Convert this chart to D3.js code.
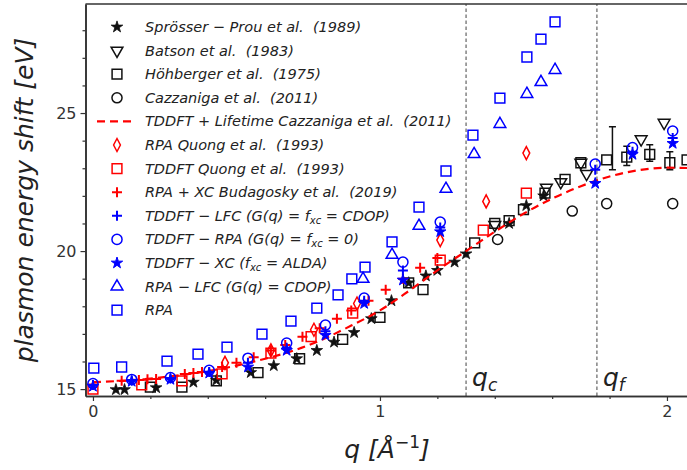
<!DOCTYPE html>
<html><head><meta charset="utf-8">
<script src="https://cdn.jsdelivr.net/npm/d3@7"></script>
<style>body{margin:0;background:#fff}svg{display:block}text{font-family:"DejaVu Sans",sans-serif}</style>
</head><body><svg id="c" width="687" height="470"></svg>
<script>
// ---- data ----
const xTicks = [0, 1, 2];
const yTicks = [15, 20, 25];
const xMinor = [0.2, 0.4, 0.6, 0.8, 1.2, 1.4, 1.6, 1.8];
const yMinor = [16, 17, 18, 19, 21, 22, 23, 24, 26, 27, 28];
const qcValue = 1.30, qfValue = 1.756;

const sprosserQ = [0.08, 0.11, 0.22, 0.35, 0.43, 0.55, 0.63, 0.71, 0.78, 0.84, 0.91, 0.97, 1.04, 1.10, 1.16, 1.20, 1.26, 1.30, 1.45, 1.51, 1.57];
const sprosserE = [14.98, 14.98, 15.05, 15.25, 15.32, 15.6, 15.85, 16.1, 16.4, 16.7, 17.05, 17.55, 18.2, 18.85, 19.1, 19.3, 19.6, 19.9, 21.0, 21.65, 22.0];

const batsonQ = [1.40, 1.58, 1.63, 1.70, 1.72, 1.91, 1.99];
const batsonE = [20.95, 22.3, 22.5, 23.2, 22.8, 24.05, 24.65];

const hohQ = [0.20, 0.31, 0.43, 0.575, 0.72, 0.87, 1.0, 1.10, 1.15, 1.33, 1.40, 1.45, 1.50, 1.575, 1.645, 1.70, 1.79, 1.86, 1.94, 2.01, 2.07];
const hohE = [15.07, 15.07, 15.3, 15.6, 16.1, 16.8, 17.6, 18.85, 18.6, 20.3, 21.0, 21.1, 21.5, 22.1, 22.6, 23.2, 23.3, 23.4, 23.5, 23.2, 23.3];
const hohErrQ = [1.81, 1.86, 1.94, 2.01];
const hohErrLo = [22.95, 23.1, 23.25, 22.95];
const hohErrHi = [24.5, 23.8, 23.85, 23.6];

const cazQ = [1.41, 1.67, 1.79, 2.02];
const cazE = [20.42, 21.45, 21.72, 21.72];

const lifeQ = [0, 0.1, 0.2, 0.3, 0.4, 0.5, 0.6, 0.7, 0.8, 0.9, 1.0, 1.1, 1.2, 1.3, 1.4, 1.5, 1.6, 1.7, 1.8, 1.9, 2.0, 2.1, 2.2];
const lifeE = [15.25, 15.3, 15.38, 15.5, 15.65, 15.85, 16.1, 16.4, 16.8, 17.3, 17.85, 18.55, 19.3, 20.0, 20.7, 21.35, 21.9, 22.35, 22.7, 22.93, 23.02, 23.0, 22.95];

const rpaQuongQ = [0.46, 0.62, 0.77, 0.92, 1.21, 1.37, 1.51];
const rpaQuongE = [15.95, 16.4, 17.15, 18.1, 20.4, 21.8, 23.55];

const tddftQuongQ = [0.0, 0.17, 0.31, 0.45, 0.62, 0.76, 0.905, 1.21, 1.36, 1.51];
const tddftQuongE = [15.0, 15.15, 15.3, 15.55, 16.3, 16.9, 17.75, 19.67, 20.76, 22.1];

const budaQ = [0.10, 0.16, 0.19, 0.22, 0.32, 0.35, 0.38, 0.45, 0.50, 0.56, 0.62, 0.67, 0.73, 0.79, 0.85, 0.90, 0.96, 1.02, 1.08, 1.14, 1.20];
const budaE = [15.3, 15.33, 15.36, 15.37, 15.55, 15.58, 15.62, 15.8, 15.95, 16.15, 16.4, 16.6, 16.9, 17.2, 17.55, 17.85, 18.2, 18.6, 19.0, 19.4, 19.75];

const blueQ = [0, 0.135, 0.27, 0.405, 0.54, 0.675, 0.81, 0.945, 1.08, 1.21, 1.75, 1.88, 2.02];
const lfcE = [15.15, 15.3, 15.38, 15.62, 15.95, 16.5, 17.1, 18.2, 19.3, 20.85, 22.95, 23.6, 24.1];
const tdRpaE = [15.2, 15.35, 15.42, 15.68, 16.12, 16.67, 17.32, 18.3, 19.6, 21.05, 23.15, 23.75, 24.35];
const xcE = [15.1, 15.28, 15.35, 15.58, 15.8, 16.4, 16.95, 18.1, 18.95, 20.7, 22.45, 23.5, 23.9];

const rpaLfcQ = [0.941, 1.042, 1.136, 1.230, 1.328, 1.418, 1.512, 1.561, 1.610];
const rpaLfcE = [18.99, 19.86, 20.91, 22.25, 23.51, 24.6, 25.69, 26.12, 26.56];

const rpaQ = [0.003, 0.10, 0.258, 0.366, 0.467, 0.589, 0.690, 0.780, 0.854, 0.902, 0.948, 1.042, 1.136, 1.230, 1.324, 1.418, 1.512, 1.561, 1.610];
const rpaE = [15.76, 15.80, 16.01, 16.27, 16.52, 16.99, 17.46, 17.93, 18.41, 18.99, 19.42, 20.33, 21.59, 22.90, 24.20, 25.54, 27.03, 27.68, 28.30];

const legendLabels = [
  ["Sprösser − Prou et al.  (1989)"],
  ["Batson et al.  (1983)"],
  ["Höhberger et al.  (1975)"],
  ["Cazzaniga et al.  (2011)"],
  ["TDDFT + Lifetime Cazzaniga et al.  (2011)"],
  ["RPA Quong et al.  (1993)"],
  ["TDDFT Quong et al.  (1993)"],
  ["RPA + XC Budagosky et al.  (2019)"],
  ["TDDFT − LFC (G(q) = f", "xc", " = CDOP)"],
  ["TDDFT − RPA (G(q) = f", "xc", " = 0)"],
  ["TDDFT − XC (f", "xc", " = ALDA)"],
  ["RPA − LFC (G(q) = CDOP)"],
  ["RPA"]
];

// ---- layout ----
const svg = d3.select("#c");
const L = 85.5, B = 396, T = 4;
const x = d3.scaleLinear().domain([-0.026, 2.2]).range([L, L + 2.226 * 287]);
const y = d3.scaleLinear().domain([14.75, 28.95]).range([B, T]);
const R = x(2.2);

svg.append("defs").append("clipPath").attr("id", "clip")
  .append("rect").attr("x", L).attr("y", T).attr("width", R - L).attr("height", B - T);

// marker shapes
const sym = {
  star: d3.symbol(d3.symbolStar, 42)(),
  starS: d3.symbol(d3.symbolStar, 40)(),
  square: d3.symbol(d3.symbolSquare, 96)(),
  circle: d3.symbol(d3.symbolCircle, 80)(),
  tri: d3.symbol(d3.symbolTriangle, 60)(),
  plus: "M-5,0H5M0,-5V5",
  diamond: "M0,-6.5L3.4,0L0,6.5L-3.4,0Z"
};
const styles = {
  sprosser: {d: sym.star, fill: "#111", stroke: "#111", sw: 0.8},
  batson: {d: sym.tri, rot: 180, fill: "none", stroke: "#111", sw: 1.5},
  hoh: {d: sym.square, fill: "none", stroke: "#111", sw: 1.5},
  caz: {d: sym.circle, fill: "none", stroke: "#111", sw: 1.5},
  rpaQuong: {d: sym.diamond, fill: "none", stroke: "red", sw: 1.5},
  tddftQuong: {d: sym.square, fill: "none", stroke: "red", sw: 1.5},
  buda: {d: sym.plus, fill: "none", stroke: "red", sw: 2},
  lfc: {d: sym.plus, fill: "none", stroke: "blue", sw: 2},
  tdRpa: {d: sym.circle, fill: "none", stroke: "blue", sw: 1.5},
  xc: {d: sym.starS, fill: "blue", stroke: "blue", sw: 1},
  rpaLfc: {d: sym.tri, fill: "none", stroke: "blue", sw: 1.5},
  rpa: {d: sym.square, fill: "none", stroke: "blue", sw: 1.5}
};

const plot = svg.append("g").attr("clip-path", "url(#clip)");

// vertical dashed lines
[qcValue, qfValue].forEach(v => {
  plot.append("line").attr("x1", x(v)).attr("x2", x(v)).attr("y1", B).attr("y2", T)
    .attr("stroke", "#444").attr("stroke-width", 1).attr("stroke-dasharray", "3.5,2.5");
});

function drawMarkers(qs, es, st) {
  plot.append("g").selectAll("path").data(qs.map((q, i) => [q, es[i]])).join("path")
    .attr("d", st.d)
    .attr("transform", d => `translate(${x(d[0])},${y(d[1])})` + (st.rot ? ` rotate(${st.rot})` : ""))
    .attr("fill", st.fill).attr("stroke", st.stroke).attr("stroke-width", st.sw);
}

// experiments
drawMarkers(sprosserQ, sprosserE, styles.sprosser);
drawMarkers(batsonQ, batsonE, styles.batson);
const eb = plot.append("g").attr("stroke", "#111").attr("stroke-width", 1.5);
hohErrQ.forEach((q, i) => {
  eb.append("line").attr("x1", x(q)).attr("x2", x(q)).attr("y1", y(hohErrLo[i])).attr("y2", y(hohErrHi[i]));
  [hohErrLo[i], hohErrHi[i]].forEach(v => eb.append("line").attr("x1", x(q) - 3.5).attr("x2", x(q) + 3.5).attr("y1", y(v)).attr("y2", y(v)));
});
drawMarkers(hohQ, hohE, styles.hoh);
drawMarkers(cazQ, cazE, styles.caz);

// lifetime curve
plot.append("path").datum(lifeQ.map((q, i) => [q, lifeE[i]]))
  .attr("d", d3.line().x(d => x(d[0])).y(d => y(d[1])).curve(d3.curveMonotoneX))
  .attr("fill", "none").attr("stroke", "red").attr("stroke-width", 2.2).attr("stroke-dasharray", "8,5");

drawMarkers(rpaQuongQ, rpaQuongE, styles.rpaQuong);
drawMarkers(tddftQuongQ, tddftQuongE, styles.tddftQuong);
drawMarkers(budaQ, budaE, styles.buda);
drawMarkers(blueQ, lfcE, styles.lfc);
drawMarkers(blueQ, tdRpaE, styles.tdRpa);
drawMarkers(blueQ, xcE, styles.xc);
drawMarkers(rpaLfcQ, rpaLfcE, styles.rpaLfc);
drawMarkers(rpaQ, rpaE, styles.rpa);

// axes
const axCol = "#333";
svg.append("g").attr("transform", `translate(0,${B})`)
  .call(d3.axisBottom(x).tickValues(xTicks).tickFormat(d3.format("d")).tickSize(5).tickSizeOuter(0).tickPadding(5));
svg.append("g").attr("transform", `translate(0,${B})`)
  .call(d3.axisBottom(x).tickValues(xMinor).tickFormat("").tickSize(3).tickSizeOuter(0));
svg.append("g").attr("transform", `translate(${L},0)`)
  .call(d3.axisLeft(y).tickValues(yTicks).tickFormat(d3.format("d")).tickSize(5).tickSizeOuter(0).tickPadding(4));
svg.append("g").attr("transform", `translate(${L},0)`)
  .call(d3.axisLeft(y).tickValues(yMinor).tickFormat("").tickSize(3).tickSizeOuter(0));
svg.selectAll(".domain").attr("stroke", axCol).attr("stroke-width", 1.6);
svg.selectAll(".tick line").attr("stroke", axCol).attr("stroke-width", 1.2);
svg.selectAll(".tick text").attr("fill", "#333").style("font-size", "16px").style("font-family", "DejaVu Sans");
svg.append("line").attr("x1", L).attr("x2", R).attr("y1", T).attr("y2", T).attr("stroke", axCol).attr("stroke-width", 1.6);

// q_c, q_f labels
function qLabel(v, sub) {
  const t = svg.append("text").attr("x", x(v) + 6).attr("y", B - 10)
    .attr("font-style", "italic").attr("font-size", 25).attr("fill", "#222");
  t.append("tspan").text("q");
  t.append("tspan").attr("font-size", 17).attr("dy", 5).text(sub);
}
qLabel(qcValue, "c");
qLabel(qfValue, "f");

// axis labels
const xl = svg.append("text").attr("x", 387).attr("y", 458).attr("text-anchor", "middle")
  .attr("font-size", 25).attr("fill", "#222").attr("font-style", "italic");
xl.append("tspan").text("q [Å");
xl.append("tspan").attr("font-size", 17).attr("dy", -10).attr("font-style", "normal").text("−1");
xl.append("tspan").attr("dy", 10).text("]");

svg.append("text").attr("transform", `translate(33,${(28 + 372) / 2}) rotate(-90)`)
  .attr("text-anchor", "middle").attr("font-size", 25).attr("font-style", "italic").attr("fill", "#222")
  .text("plasmon energy shift [eV]");

// legend
const legKeys = ["sprosser", "batson", "hoh", "caz", "line", "rpaQuong", "tddftQuong", "buda", "lfc", "tdRpa", "xc", "rpaLfc", "rpa"];
const leg = svg.append("g");
legKeys.forEach((k, i) => {
  const yy = 27 + i * 23.6;
  if (k === "line") {
    leg.append("line").attr("x1", 97).attr("x2", 136).attr("y1", yy).attr("y2", yy)
      .attr("stroke", "red").attr("stroke-width", 2.2).attr("stroke-dasharray", "8,5");
  } else {
    const st = styles[k];
    leg.append("path").attr("d", st.d)
      .attr("transform", `translate(117,${yy})` + (st.rot ? ` rotate(${st.rot})` : ""))
      .attr("fill", st.fill).attr("stroke", st.stroke).attr("stroke-width", st.sw);
  }
  const parts = legendLabels[i];
  const t = leg.append("text").attr("x", 145).attr("y", yy + 5).attr("font-size", 14.5)
    .attr("font-style", "italic").attr("fill", "#222").attr("xml:space", "preserve");
  t.append("tspan").text(parts[0]);
  if (parts.length > 1) {
    t.append("tspan").attr("font-size", 10).attr("dy", 3).text(parts[1]);
    t.append("tspan").attr("dy", -3).text(parts[2]);
  }
});
</script></body></html>
